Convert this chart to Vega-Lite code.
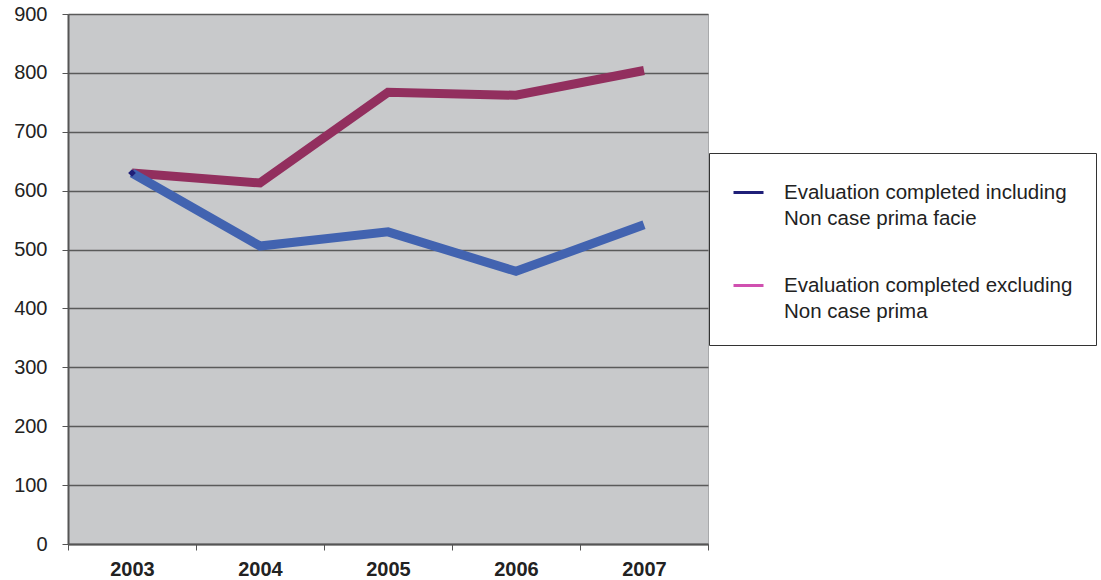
{
  "$schema": "https://vega.github.io/schema/vega-lite/v6.json",
  "autosize": "none",
  "width": 640,
  "height": 530,
  "padding": {"left": 68, "top": 14, "right": 393, "bottom": 36},
  "background": "white",
  "config": {
    "font": "Liberation Sans",
    "view": {"fill": "#c8c9cb", "stroke": "#a8a9ab", "strokeWidth": 1}
  },
  "data": {
    "values": [
      {"year": "2003", "series": "Evaluation completed excluding Non case prima", "value": 630},
      {"year": "2004", "series": "Evaluation completed excluding Non case prima", "value": 613},
      {"year": "2005", "series": "Evaluation completed excluding Non case prima", "value": 767},
      {"year": "2006", "series": "Evaluation completed excluding Non case prima", "value": 762},
      {"year": "2007", "series": "Evaluation completed excluding Non case prima", "value": 804},
      {"year": "2003", "series": "Evaluation completed including Non case prima facie", "value": 630},
      {"year": "2004", "series": "Evaluation completed including Non case prima facie", "value": 506},
      {"year": "2005", "series": "Evaluation completed including Non case prima facie", "value": 530},
      {"year": "2006", "series": "Evaluation completed including Non case prima facie", "value": 463},
      {"year": "2007", "series": "Evaluation completed including Non case prima facie", "value": 542}
    ]
  },
  "encoding": {
    "x": {
      "field": "year", "type": "ordinal",
      "scale": {"type": "band", "paddingInner": 0, "paddingOuter": 0},
      "axis": {
        "title": null, "labelAngle": 0, "labelFontSize": 20, "labelFontWeight": "bold",
        "labelColor": "#222", "labelPadding": 9, "tickBand": "extent", "tickSize": 6,
        "tickColor": "#555", "domainColor": "#555", "domainWidth": 2, "grid": false
      }
    },
    "y": {
      "field": "value", "type": "quantitative",
      "scale": {"domain": [0, 900], "nice": false},
      "axis": {
        "title": null, "values": [0, 100, 200, 300, 400, 500, 600, 700, 800, 900],
        "labelFontSize": 20, "labelColor": "#222", "labelPadding": 15, "tickSize": 6,
        "tickColor": "#555", "domainColor": "#555", "domainWidth": 2,
        "grid": true, "gridColor": "#5a5a5a", "gridWidth": 1.5
      }
    }
  },
  "layer": [
    {
      "transform": [{"filter": "datum.series == 'Evaluation completed excluding Non case prima'"}],
      "mark": {"type": "line", "strokeWidth": 9, "strokeJoin": "miter", "strokeCap": "butt"},
      "encoding": {
        "stroke": {
          "field": "series", "type": "nominal", "legend": null,
          "scale": {
            "domain": ["Evaluation completed excluding Non case prima", "Evaluation completed including Non case prima facie"],
            "range": ["#922f5e", "#4263b0"]
          }
        }
      }
    },
    {
      "transform": [{"filter": "datum.series == 'Evaluation completed including Non case prima facie'"}],
      "mark": {"type": "line", "strokeWidth": 9, "strokeJoin": "miter", "strokeCap": "butt"},
      "encoding": {
        "stroke": {"field": "series", "type": "nominal", "legend": null}
      }
    },
    {
      "transform": [{"filter": "datum.value < 0"}],
      "mark": {"type": "line", "strokeWidth": 3},
      "encoding": {
        "color": {
          "field": "series", "type": "nominal",
          "scale": {
            "domain": ["Evaluation completed including Non case prima facie", "Evaluation completed excluding Non case prima"],
            "range": ["#1f1f78", "#d050b0"]
          },
          "legend": {
            "title": null, "orient": "none", "legendX": 641, "legendY": 139,
            "direction": "vertical",
            "fillColor": "white", "strokeColor": "#333", "padding": 23,
            "symbolType": "stroke", "symbolSize": 900, "symbolStrokeWidth": 3,
            "labelFontSize": 20.5, "labelColor": "#222", "labelLimit": 0, "labelOffset": 19,
            "rowPadding": 40,
            "labelExpr": "datum.label == 'Evaluation completed including Non case prima facie' ? ['Evaluation completed including', 'Non case prima facie'] : ['Evaluation completed excluding', 'Non case prima']",
            "encode": {
              "labels": {"update": {"lineHeight": {"value": 26}}}
            }
          }
        }
      }
    },
    {
      "transform": [{"filter": "datum.series == 'Evaluation completed including Non case prima facie' && datum.year == '2003'"}],
      "mark": {"type": "point", "shape": "diamond", "filled": true, "size": 60, "opacity": 1, "color": "#1f1f78"}
    }
  ]
}
